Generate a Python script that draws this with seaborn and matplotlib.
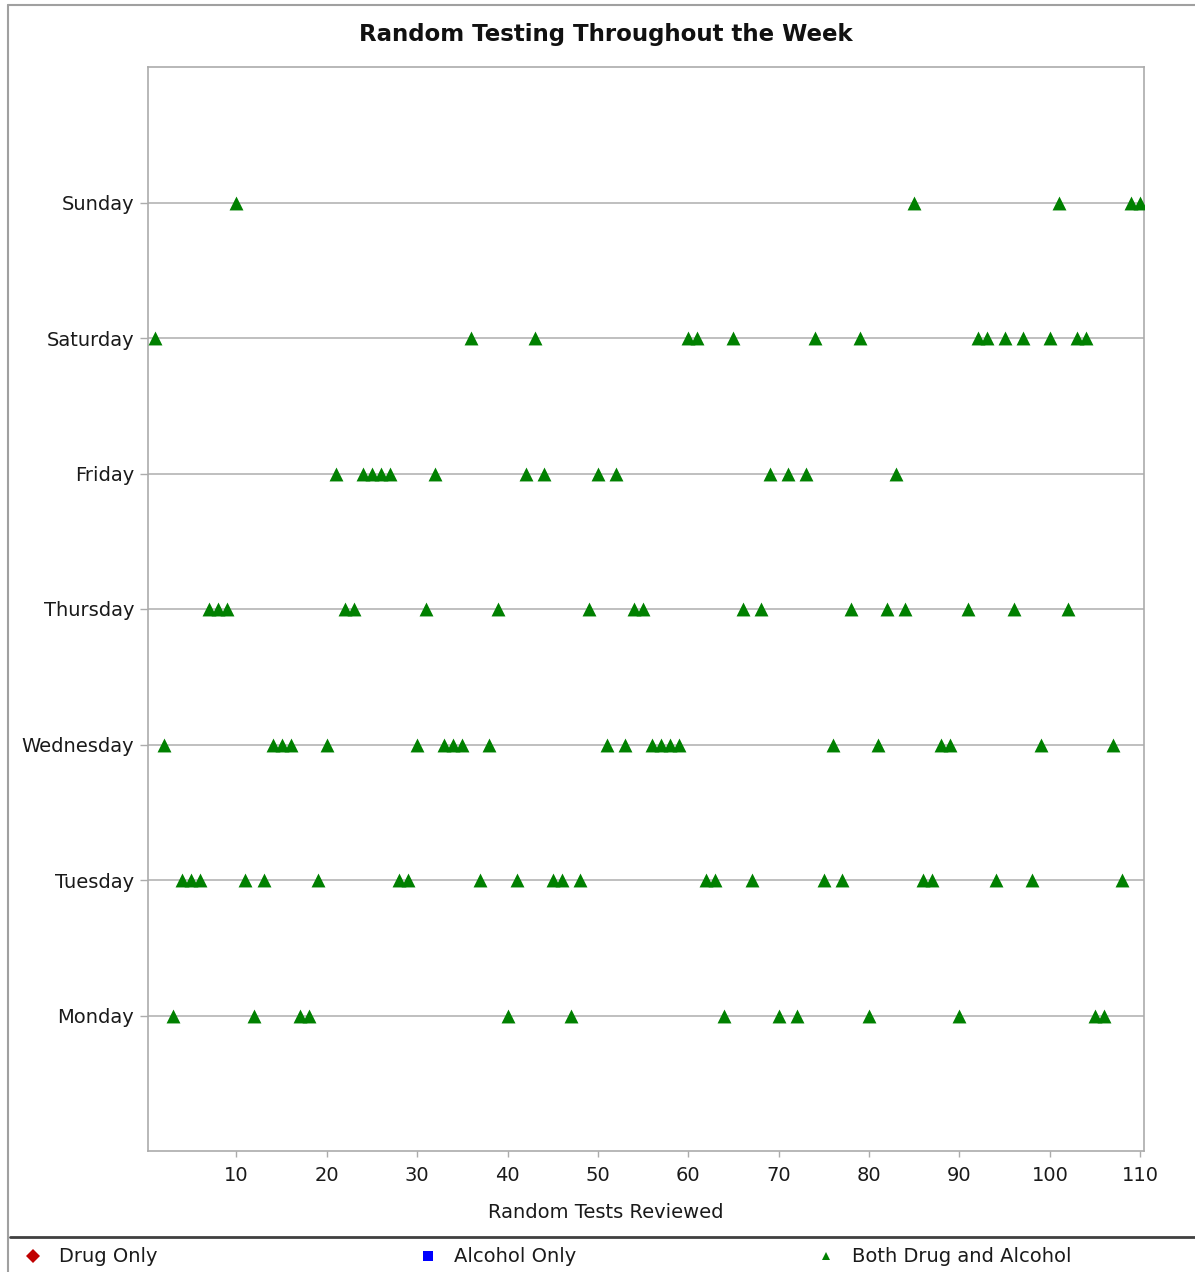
import pandas as pd
import matplotlib
matplotlib.use('Agg')
import matplotlib.pyplot as plt
import seaborn as sns
from matplotlib.lines import Line2D

# ====== data: test number reviewed on each day ======
days = ['Sunday', 'Saturday', 'Friday', 'Thursday', 'Wednesday', 'Tuesday', 'Monday']
sunday = [10, 85, 101, 109, 110]
saturday = [1, 36, 43, 60, 61, 65, 74, 79, 92, 93, 95, 97, 100, 103, 104]
friday = [21, 24, 25, 26, 27, 32, 42, 44, 50, 52, 69, 71, 73, 83]
thursday = [7, 8, 9, 22, 23, 31, 39, 49, 54, 55, 66, 68, 78, 82, 84, 91, 96, 102]
wednesday = [2, 14, 15, 16, 20, 30, 33, 34, 35, 38, 51, 53, 56, 57, 58, 59, 76, 81, 88, 89, 99, 107]
tuesday = [4, 5, 6, 11, 13, 19, 28, 29, 37, 41, 45, 46, 48, 62, 63, 67, 75, 77, 86, 87, 94, 98, 108]
monday = [3, 12, 17, 18, 40, 47, 64, 70, 72, 80, 90, 105, 106]

legend_labels = ['Drug Only', 'Alcohol Only', 'Both Drug and Alcohol']
legend_colors = ['#c00000', '#0000ff', '#008000']
legend_markers = ['D', 's', '^']
x_ticks = [10, 20, 30, 40, 50, 60, 70, 80, 90, 100, 110]

rows = []
for day, vals in zip(days, [sunday, saturday, friday, thursday, wednesday, tuesday, monday]):
    for v in vals:
        rows.append((day, v))
df = pd.DataFrame(rows, columns=['Day', 'Test'])

# ====== style ======
sns.set_theme(style='white')
plt.rcParams['font.family'] = ['DejaVu Sans']
W, H = 1195, 1272
grey = '#ababab'
txt = '#1a1a1a'

fig = plt.figure(figsize=(W / 100, H / 100), dpi=100)
ax = fig.add_axes([148 / W, 1 - 1151 / H, (1144 - 148) / W, (1151 - 67) / H])

sns.stripplot(data=df, x='Test', y='Day', order=days, jitter=False,
              marker='^', size=10, color='#008000', linewidth=0, ax=ax, zorder=3)

ax.set_xlim(0.22, 110.42)
ax.set_ylim(7, -1)
ax.set_xticks(x_ticks)
ax.set_xlabel('')
ax.set_ylabel('')
ax.set_axisbelow(True)
ax.yaxis.grid(True, color='#b4b4b4', linewidth=1.2)
ax.xaxis.grid(False)
for sp in ax.spines.values():
    sp.set_color(grey)
    sp.set_linewidth(1.2)
ax.tick_params(axis='y', length=6, width=1, color=grey, pad=4, labelsize=14, labelcolor=txt, left=True)
ax.tick_params(axis='x', length=4.5, width=1, color=grey, pad=6, labelsize=14, labelcolor=txt, bottom=True)

fig.text(606 / W, 1 - 35 / H, 'Random Testing Throughout the Week', ha='center', va='center',
         fontsize=16.5, fontweight='bold', color='#111111')
fig.text(606 / W, 1 - 1213 / H, 'Random Tests Reviewed', ha='center', va='center',
         fontsize=14, color=txt)

# ====== outer frame and legend separator ======
fig.add_artist(Line2D([8 / W, 1], [1 - 5 / H] * 2, color='#a0a0a0', lw=1.5, transform=fig.transFigure))
fig.add_artist(Line2D([8 / W] * 2, [1 - 5 / H, 0], color='#a0a0a0', lw=1.5, transform=fig.transFigure))
fig.add_artist(Line2D([10 / W, 1], [1 - 1237 / H] * 2, color='#404040', lw=2, transform=fig.transFigure))

# ====== legend ======
legend_x = [23, 418, 816]
legend_sizes = [7, 7.5, 6]
for lab, col, mk, lx, ms in zip(legend_labels, legend_colors, legend_markers, legend_x, legend_sizes):
    h = Line2D([], [], linestyle='none', marker=mk, color=col, markersize=ms, markeredgewidth=0)
    lg = fig.legend(handles=[h], labels=[lab], loc='center left', bbox_to_anchor=(lx / W, 1 - 1257 / H),
                    frameon=False, fontsize=14, handlelength=1.0, handletextpad=0.85,
                    borderpad=0, borderaxespad=0)
    for t in lg.get_texts():
        t.set_color(txt)

fig.savefig('out.png', dpi=100)
